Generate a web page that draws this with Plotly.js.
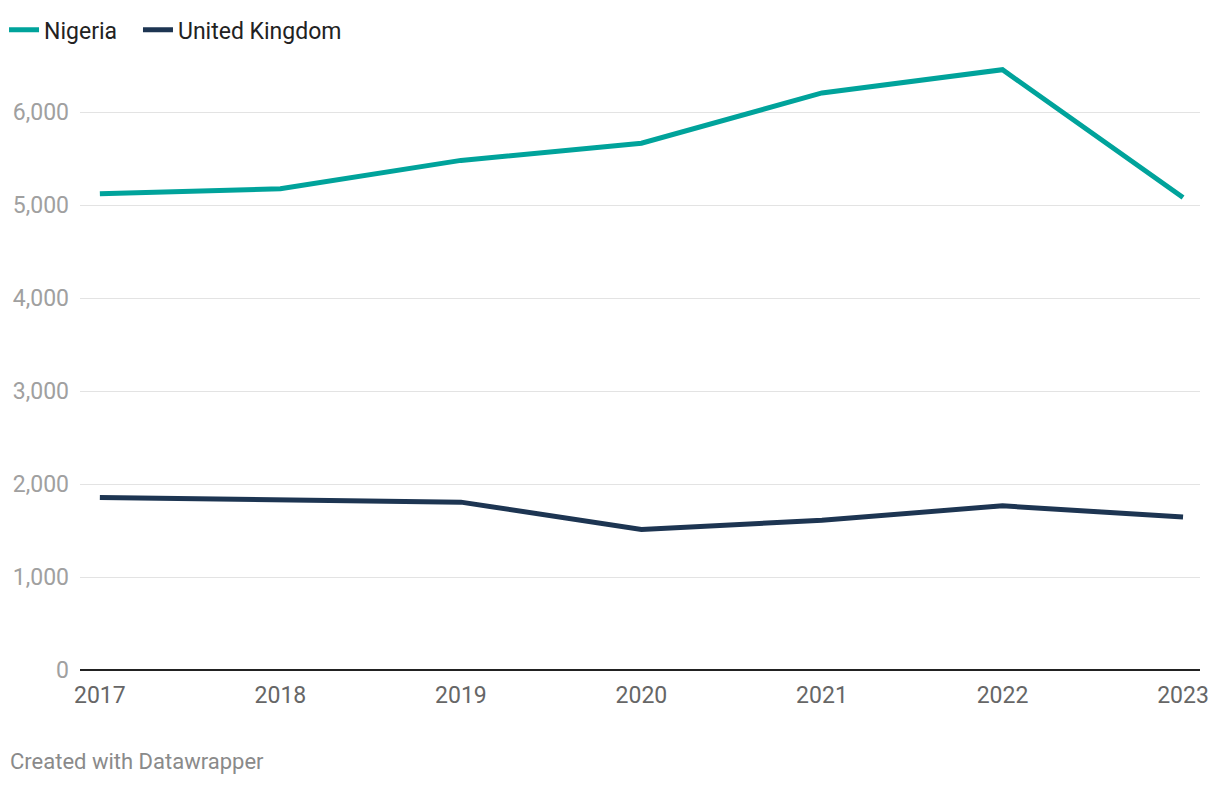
<!DOCTYPE html>
<html><head><meta charset="utf-8">
<script src="https://cdn.plot.ly/plotly-3.0.1.min.js"></script>
<style>html,body{margin:0;padding:0;background:#fff}#chart{width:1220px;height:786px}</style>
</head><body><div id="chart"></div>
<script>
const years = [2017, 2018, 2019, 2020, 2021, 2022, 2023];
const nigeria = [5120, 5175, 5480, 5665, 6205, 6455, 5080];
const unitedKingdom = [1855, 1835, 1805, 1512, 1610, 1765, 1645];
const seriesNames = ["Nigeria", "United Kingdom"];
const yTicks = [0, 1000, 2000, 3000, 4000, 5000, 6000];

const traces = [
  {x: years, y: nigeria, name: seriesNames[0], type: "scatter", mode: "lines",
   legend: "legend", line: {color: "#00a39b", width: 5}},
  {x: years, y: unitedKingdom, name: seriesNames[1], type: "scatter", mode: "lines",
   legend: "legend2", line: {color: "#1d3552", width: 5}}
];

const legendBase = {orientation: "h", xref: "container", yref: "container",
  xanchor: "left", y: 0.962, yanchor: "middle", bgcolor: "rgba(0,0,0,0)",
  font: {size: 23, color: "#222"}, itemwidth: 30};

const layout = {
  width: 1220, height: 786,
  margin: {l: 80, r: 20, t: 50, b: 116, autoexpand: false},
  paper_bgcolor: "#fff", plot_bgcolor: "#fff",
  font: {family: "Roboto, sans-serif", size: 23, color: "#333"},
  showlegend: true,
  legend: Object.assign({}, legendBase, {x: 0.0033}),
  legend2: Object.assign({}, legendBase, {x: 0.1131}),
  xaxis: {range: [2016.89, 2023.094], tickvals: years, ticktext: years.map(String),
          showgrid: false, zeroline: false, showline: false, ticks: "",
          ticklabelstandoff: 9,
          tickfont: {size: 23, color: "#666"}, fixedrange: true},
  yaxis: {range: [0, 6667], tickvals: yTicks, tickformat: ",", showgrid: true,
          gridcolor: "#e3e3e3", gridwidth: 1, zeroline: true, zerolinecolor: "#222",
          zerolinewidth: 1.5, ticks: "", ticklabelstandoff: 10,
          tickfont: {size: 23, color: "#a0a0a0"}, fixedrange: true},
  annotations: [{text: "Created with Datawrapper", xref: "paper", yref: "paper",
                 x: -0.064, y: -0.148, xanchor: "left", yanchor: "middle",
                 showarrow: false, font: {size: 22, color: "#8a8a8a"}}]
};
Plotly.newPlot("chart", traces, layout, {displayModeBar: false, staticPlot: true});
</script></body></html>
